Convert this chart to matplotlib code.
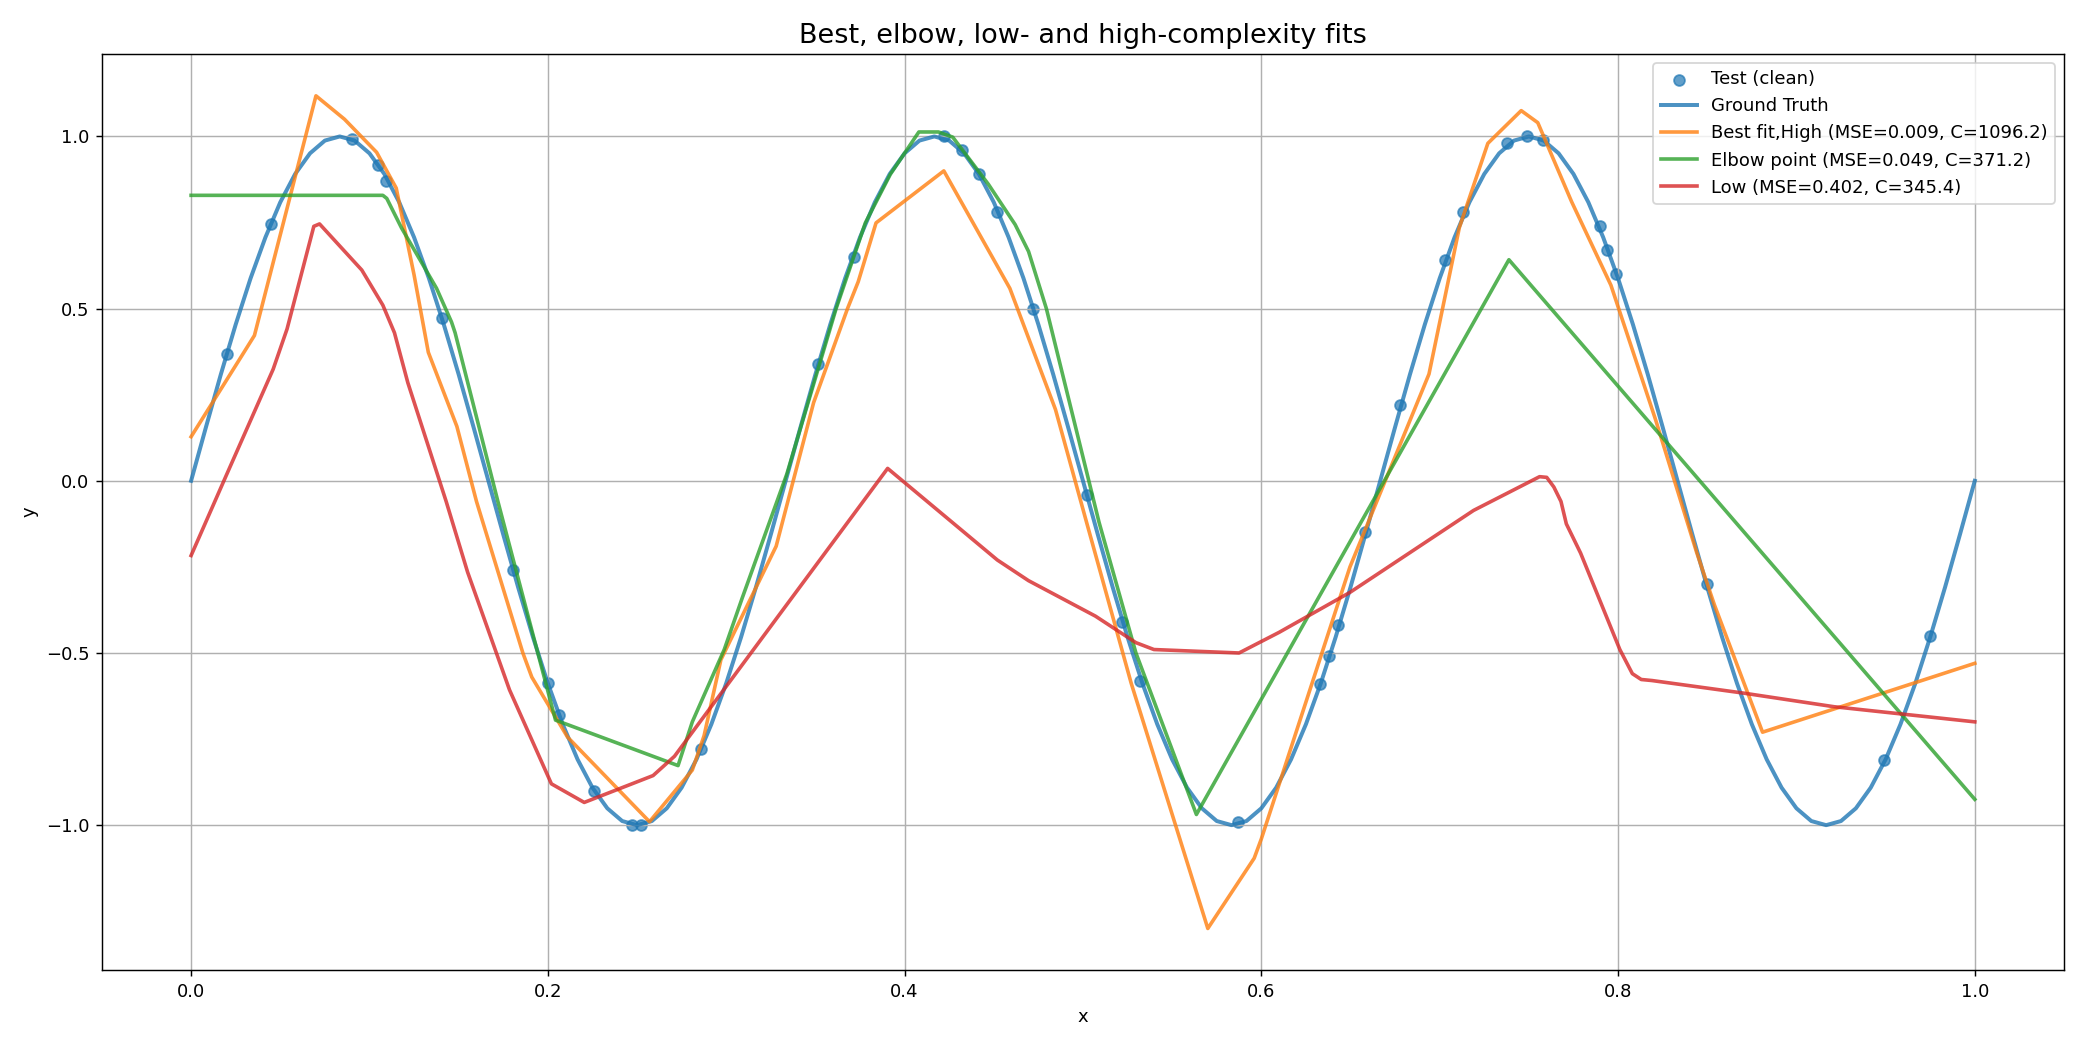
"""
Best / elbow / low / high complexity fits against the ground truth
"""
import numpy as np
from matplotlib import pyplot as plt

# ground truth, sampled every 1/120 in x
gt_x = np.arange(121) / 120
gt_y = [0.0, 0.156, 0.309, 0.454, 0.588, 0.707, 0.809, 0.891, 0.951, 0.988,
        1.0, 0.988, 0.951, 0.891, 0.809, 0.707, 0.588, 0.454, 0.309, 0.156,
        0.0, -0.156, -0.309, -0.454, -0.588, -0.707, -0.809, -0.891, -0.951, -0.988,
        -1.0, -0.988, -0.951, -0.891, -0.809, -0.707, -0.588, -0.454, -0.309, -0.156,
        0.0, 0.156, 0.309, 0.454, 0.588, 0.707, 0.809, 0.891, 0.951, 0.988,
        1.0, 0.988, 0.951, 0.891, 0.809, 0.707, 0.588, 0.454, 0.309, 0.156,
        0.0, -0.156, -0.309, -0.454, -0.588, -0.707, -0.809, -0.891, -0.951, -0.988,
        -1.0, -0.988, -0.951, -0.891, -0.809, -0.707, -0.588, -0.454, -0.309, -0.156,
        0.0, 0.156, 0.309, 0.454, 0.588, 0.707, 0.809, 0.891, 0.951, 0.988,
        1.0, 0.988, 0.951, 0.891, 0.809, 0.707, 0.588, 0.454, 0.309, 0.156,
        0.0, -0.156, -0.309, -0.454, -0.588, -0.707, -0.809, -0.891, -0.951, -0.988,
        -1.0, -0.988, -0.951, -0.891, -0.809, -0.707, -0.588, -0.454, -0.309, -0.156,
        0.0]

# test points (clean)
test_x = [0.020, 0.0446, 0.090, 0.105, 0.109, 0.1405, 0.1807, 0.200, 0.206, 0.226,
          0.247, 0.252, 0.286, 0.3517, 0.3717, 0.4223, 0.432, 0.4416, 0.452, 0.472,
          0.502, 0.522, 0.532, 0.587, 0.633, 0.638, 0.643, 0.658, 0.678, 0.703,
          0.713, 0.738, 0.749, 0.758, 0.790, 0.794, 0.799, 0.850, 0.949, 0.975]
test_y = [0.368, 0.745, 0.992, 0.918, 0.87, 0.473, -0.26, -0.588, -0.68, -0.90,
          -1.0, -1.0, -0.78, 0.34, 0.65, 1.0, 0.96, 0.89, 0.78, 0.50,
          -0.04, -0.41, -0.58, -0.99, -0.59, -0.51, -0.42, -0.15, 0.22, 0.64,
          0.78, 0.98, 1.0, 0.99, 0.74, 0.67, 0.60, -0.30, -0.81, -0.45]

# best fit / high complexity
high_x = [0.0, 0.029, 0.0355, 0.070, 0.086, 0.104, 0.115, 0.125, 0.133, 0.149,
          0.160, 0.186, 0.191, 0.211, 0.257, 0.281, 0.2876, 0.297, 0.312, 0.328,
          0.349, 0.368, 0.374, 0.384, 0.422, 0.459, 0.4846, 0.502, 0.527, 0.570,
          0.596, 0.600, 0.6497, 0.694, 0.711, 0.727, 0.7457, 0.755, 0.774, 0.796,
          0.821, 0.844, 0.854, 0.881, 1.0]
high_y = [0.128, 0.368, 0.422, 1.118, 1.05, 0.954, 0.85, 0.598, 0.373, 0.158,
          -0.06, -0.50, -0.57, -0.744, -0.99, -0.84, -0.74, -0.52, -0.36, -0.19,
          0.227, 0.50, 0.578, 0.749, 0.90, 0.559, 0.207, -0.12, -0.587, -1.30,
          -1.096, -1.04, -0.25, 0.31, 0.735, 0.98, 1.075, 1.04, 0.81, 0.568,
          0.178, -0.207, -0.36, -0.73, -0.53]

# elbow point
elbow_x = [0.0, 0.1075, 0.1097, 0.118, 0.1376, 0.146, 0.148, 0.172, 0.2043, 0.273,
           0.281, 0.2989, 0.309, 0.334, 0.3616, 0.378, 0.392, 0.408, 0.419, 0.427,
           0.447, 0.462, 0.4695, 0.4795, 0.509, 0.5297, 0.5636, 0.7388, 1.0]
elbow_y = [0.829, 0.829, 0.82, 0.734, 0.559, 0.461, 0.43, -0.06, -0.695, -0.827,
           -0.70, -0.49, -0.34, 0.02, 0.50, 0.749, 0.89, 1.013, 1.013, 0.998,
           0.861, 0.744, 0.666, 0.50, -0.12, -0.50, -0.969, 0.642, -0.925]

# low complexity
low_x = [0.0, 0.0194, 0.046, 0.0538, 0.0688, 0.072, 0.0957, 0.1075, 0.114, 0.1215,
         0.143, 0.155, 0.1785, 0.202, 0.2204, 0.259, 0.271, 0.3905, 0.452, 0.4695,
         0.507, 0.5297, 0.5398, 0.5875, 0.610, 0.6497, 0.719, 0.756, 0.760, 0.764,
         0.768, 0.771, 0.779, 0.801, 0.808, 0.813, 0.819, 0.871, 0.921, 1.0]
low_y = [-0.217, 0.012, 0.324, 0.441, 0.739, 0.746, 0.612, 0.51, 0.43, 0.285,
         -0.06, -0.265, -0.607, -0.88, -0.934, -0.856, -0.80, 0.036, -0.23, -0.29,
         -0.393, -0.47, -0.49, -0.50, -0.44, -0.324, -0.086, 0.012, 0.01, -0.018,
         -0.06, -0.125, -0.21, -0.49, -0.56, -0.577, -0.58, -0.617, -0.656, -0.70]

labels = ['Test (clean)', 'Ground Truth',
          'Best fit,High (MSE=0.009, C=1096.2)',
          'Elbow point (MSE=0.049, C=371.2)',
          'Low (MSE=0.402, C=345.4)']


def main():
    fig, ax = plt.subplots(figsize=(16, 1042 / 130))
    ax.scatter(test_x, test_y, s=36, color='tab:blue', alpha=0.7, label=labels[0])
    ax.plot(gt_x, gt_y, color='tab:blue', lw=2.2, alpha=0.8, label=labels[1])
    ax.plot(high_x, high_y, color='tab:orange', lw=2, alpha=0.8, label=labels[2])
    ax.plot(elbow_x, elbow_y, color='tab:green', lw=2, alpha=0.8, label=labels[3])
    ax.plot(low_x, low_y, color='tab:red', lw=2, alpha=0.8, label=labels[4])
    ax.set_title('Best, elbow, low- and high-complexity fits', fontsize=15)
    ax.set_xlabel('x')
    ax.set_ylabel('y')
    ax.grid(True)
    ax.legend(loc='upper right')
    fig.subplots_adjust(left=0.049, right=0.9923, top=0.948, bottom=0.069)
    fig.savefig('out.png', dpi=130)


if __name__ == '__main__':
    main()
